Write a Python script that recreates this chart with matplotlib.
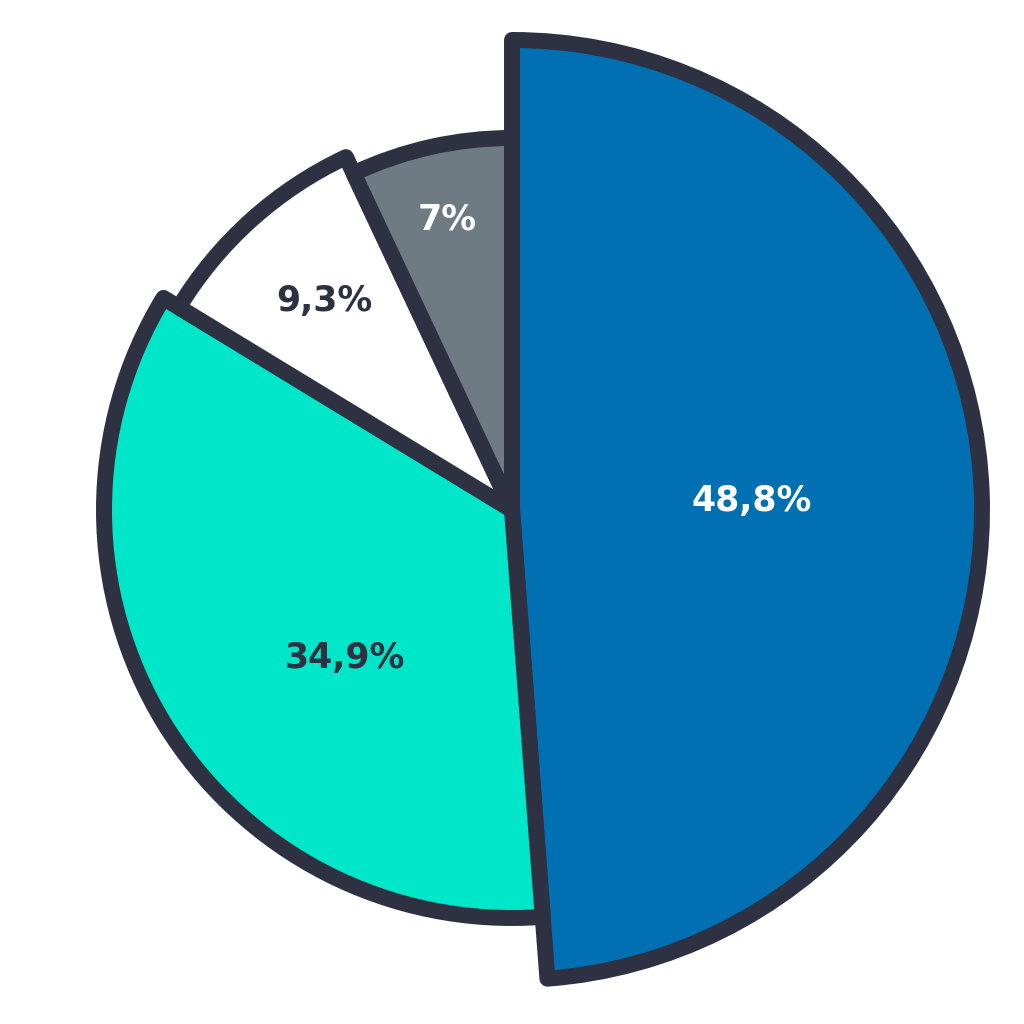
import numpy as np
import matplotlib.pyplot as plt

shares = [48.8, 34.9, 9.3, 7.0]
labels = ['48,8%', '34,9%', '9,3%', '7%']
radii = [470, 408, 390, 372]
colors = ['#0070b2', '#00e6c8', '#ffffff', '#6e7b82']
text_colors = ['#ffffff', '#2e3142', '#2e3142', '#ffffff']

# label placement: (angle offset from wedge middle in deg, fraction of radius)
label_pos = [(0, 0.51), (10, 0.547), (0, 0.72), (0, 0.80)]

edge = '#2e3142'

fig = plt.figure(figsize=(10.24, 10.24), dpi=100)
ax = fig.add_axes([0, 0, 1, 1])

wedges, _ = ax.pie(shares, colors=colors, startangle=90, counterclock=False,
                   radius=1,
                   wedgeprops=dict(edgecolor=edge, linewidth=11.5,
                                   joinstyle='round'))

for w, r in zip(wedges, radii):
    w.set_radius(r)

for w, r, lab, tc, (dth, frac) in zip(wedges, radii, labels, text_colors, label_pos):
    mid = np.deg2rad((w.theta1 + w.theta2) / 2 + dth)
    ax.text(r * frac * np.cos(mid), r * frac * np.sin(mid), lab,
            ha='center', va='center', color=tc, fontsize=25,
            fontweight='bold', family='DejaVu Sans')

ax.set_xlim(-512, 512)
ax.set_ylim(-514, 510)
ax.set_aspect('equal')
ax.axis('off')

fig.savefig('out.png', dpi=100, facecolor='white')
